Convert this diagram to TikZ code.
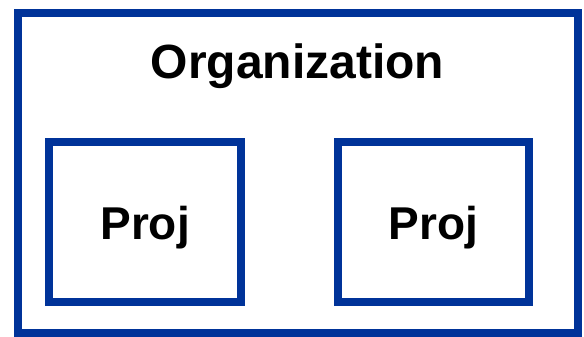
\documentclass[tikz,border=0pt]{standalone}
\usepackage{fontspec}
\setmainfont{Liberation Sans}
\definecolor{orgblue}{RGB}{0,51,153}
\begin{document}
\begin{tikzpicture}[x=1pt,y=-1pt,
  box/.style={draw=orgblue, line width=8pt, fill=white, inner sep=0pt, outer sep=0pt},
  lbl/.style={font=\fontsize{46}{50}\selectfont\bfseries, inner sep=0pt, anchor=base}]
\useasboundingbox (0,0) rectangle (584,337);
\node[box, minimum width=560pt, minimum height=319.5pt] (org) at (297.5,173.25) {};
\node[box, minimum width=191.7pt, minimum height=160pt] (p1) at (145.15,221.5) {};
\node[box, minimum width=191.5pt, minimum height=160pt] (p2) at (433.25,221.5) {};
\node[lbl, font=\fontsize{48}{52}\selectfont\bfseries] (orgt) at (297.5,78) {Organization};
\node[lbl] (p1t) at (p1.center |- 0,239.3) {Proj};
\node[lbl] (p2t) at (p2.center |- 0,239.3) {Proj};
\end{tikzpicture}
\end{document}
